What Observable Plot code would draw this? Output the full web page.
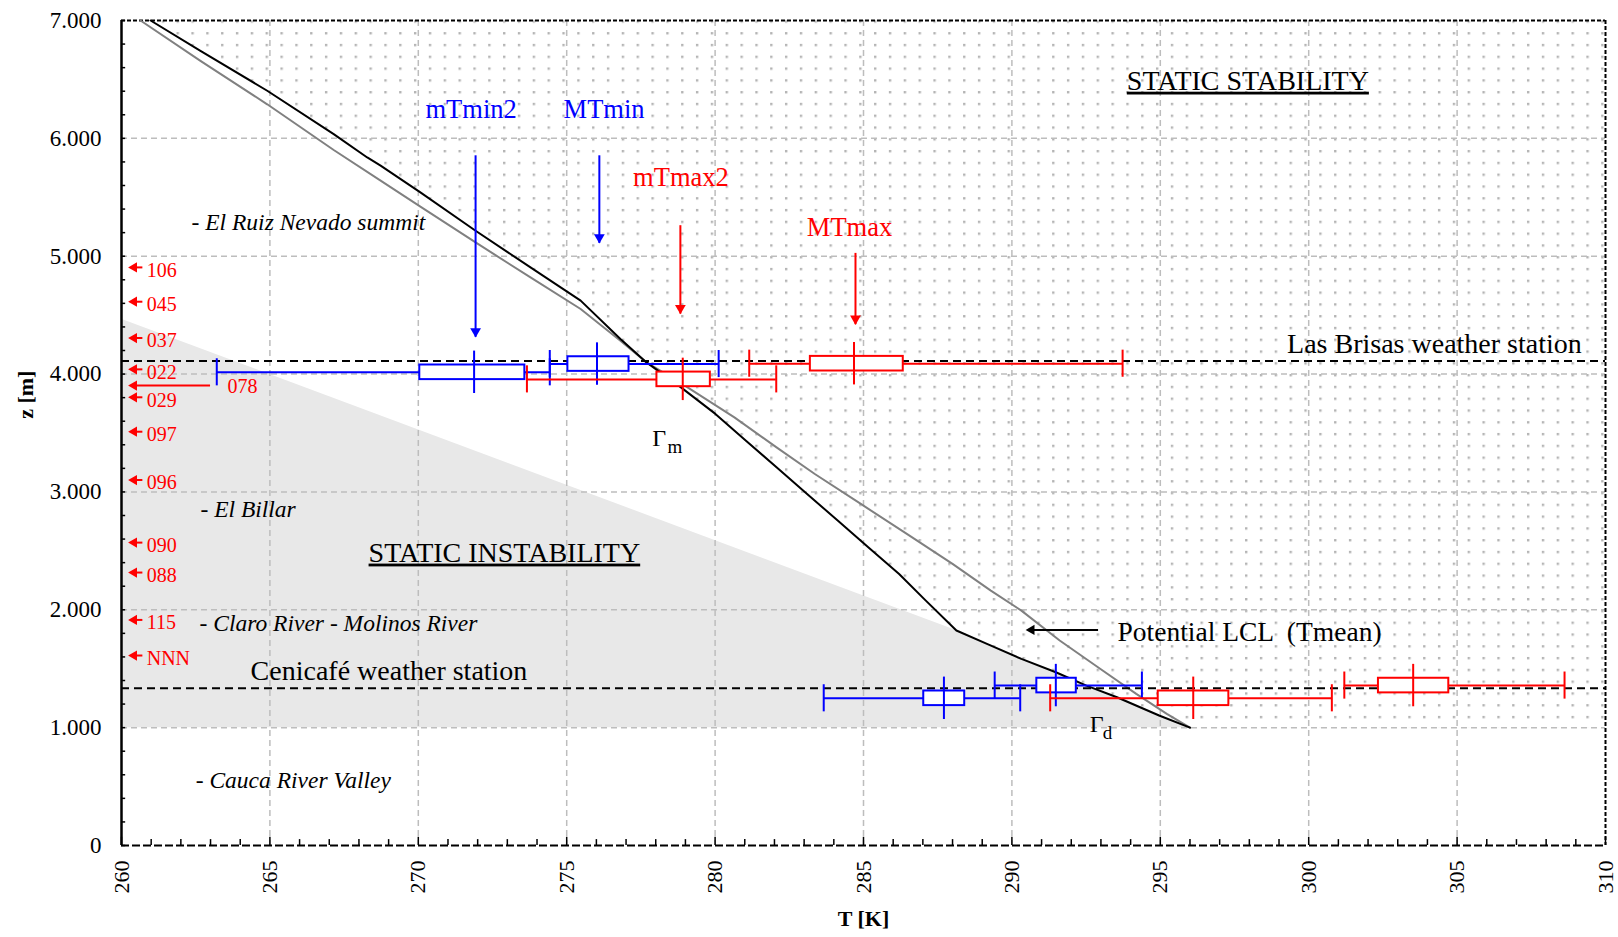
<!DOCTYPE html>
<html><head><meta charset="utf-8">
<script src="https://cdn.jsdelivr.net/npm/d3@7"></script>
<script src="https://cdn.jsdelivr.net/npm/@observablehq/plot@0.6"></script>
<style>body{margin:0;background:#fff} svg text{font-family:"Liberation Serif","Times New Roman",serif}</style>
</head><body><div id="chart"></div>
<script>
// ---- data ----
const blackT = [260.98,262.66,264.91,267.15,268.28,268.73,270.07,271.93,273.78,275.47,276.81,277.69,278.85,280.01,281.04,282.07,283.10,284.13,285.16,286.20,287.10,288.13,289.16,290.32,291.48,292.51,293.54,294.96,296.0];
const blackZ = [7000,6743,6404,6036,5838,5768,5541,5216,4905,4623,4298,4099,3887,3662,3435,3209,2983,2757,2530,2304,2078,1824,1711,1583,1470,1357,1258,1103,1000];
const greyT = [260.64,262.66,264.91,267.15,268.73,270.07,271.93,273.78,275.47,276.81,277.69,278.98,280.65,282.07,283.36,284.91,286.46,288.0,289.29,290.32,291.61,292.9,294.19,295.22,296.0];
const greyZ = [7000,6658,6289,5901,5641,5421,5117,4820,4552,4283,4099,3902,3633,3378,3152,2898,2644,2389,2163,1993,1739,1512,1287,1117,1000];
const instabilityEdgeT = [288.13, 260];
const instabilityEdgeZ = [1824, 4466];
const stationLineZ = [4110, 1335];

const boxKind = ["min","min","max","max","min","min","max","max"];
const boxZ   = [4015,4085,3955,4088,1249,1357,1249,1357];
const boxMin = [263.21,274.43,273.66,281.15,283.66,289.42,291.29,301.20];
const boxQ1  = [270.05,275.04,278.04,283.21,287.03,290.84,294.93,302.35];
const boxMed = [271.88,276.02,278.91,284.68,287.71,291.48,296.11,303.52];
const boxQ3  = [273.59,277.10,279.84,286.34,288.41,292.17,297.31,304.72];
const boxMax = [274.43,280.12,282.06,293.73,290.28,294.38,300.78,308.62];

const arrowLabel = ["mTmin2","MTmin","mTmax2","MTmax"];
const arrowKind  = ["min","min","max","max"];
const arrowT     = [271.93,276.10,278.83,284.73];
const arrowTop   = [5852,5852,5259,5024];
const arrowTip   = [4312,5109,4509,4419];
const arrowLabelT = [271.78,276.26,278.85,284.53];
const arrowLabelZ = [6248,6248,5670,5242];

const stationCode = ["106","045","037","022","029","097","096","090","088","115","NNN"];
const stationZ    = [4905,4614,4306,4040,3803,3511,3101,2570,2316,1914,1612];
const farCode = ["078"], farZ = [3902], farFromT = [263.0], farLabelT = [263.57];

const placeName = ["- El Ruiz Nevado summit","- El Billar","- Claro River - Molinos River","- Cauca River Valley"];
const placeT = [262.36,262.66,262.63,262.5];
const placeZ = [5287,2854,1880,551];

const xTicks = d3.range(260, 311, 5);
const yTicks = d3.range(0, 7001, 1000);

// ---- tables ----
const black = blackT.map((T,i)=>({T, z:blackZ[i]}));
const grey = greyT.map((T,i)=>({T, z:greyZ[i]}));
const shade = black.filter(d=>d.z<=instabilityEdgeZ[0]).sort((a,b)=>a.z-b.z)
  .concat(instabilityEdgeT.slice(1).map((T,i)=>({T, z:instabilityEdgeZ[i+1]})));
const boxes = boxZ.map((z,i)=>({z, kind:boxKind[i], min:boxMin[i], q1:boxQ1[i], med:boxMed[i], q3:boxQ3[i], max:boxMax[i]}));
const arrows = arrowT.map((T,i)=>({T, top:arrowTop[i], tip:arrowTip[i], kind:arrowKind[i], label:arrowLabel[i], lT:arrowLabelT[i], lZ:arrowLabelZ[i]}));
const stations = stationZ.map((z,i)=>({z, code:stationCode[i]}));
const far = farZ.map((z,i)=>({z, code:farCode[i], from:farFromT[i], lT:farLabelT[i]}));
const places = placeName.map((t,i)=>({t, T:placeT[i], z:placeZ[i]}));

const serif = "'Liberation Serif', 'Times New Roman', serif";
const BLUE = "#0000ff", RED = "#ff0000";
const colorOf = {min: BLUE, max: RED};
const BH = 62, WH = 115, MH = 180;

const boxMarks = ["min","max"].flatMap(k => {
  const d = boxes.filter(b => b.kind === k), c = colorOf[k];
  return [
    Plot.ruleY(d, {y:"z", x1:"min", x2:"max", stroke:c, strokeWidth:2}),
    Plot.ruleX(d, {x:"min", y1:b=>b.z-WH, y2:b=>b.z+WH, stroke:c, strokeWidth:2}),
    Plot.ruleX(d, {x:"max", y1:b=>b.z-WH, y2:b=>b.z+WH, stroke:c, strokeWidth:2}),
    Plot.rect(d, {x1:"q1", x2:"q3", y1:b=>b.z-BH, y2:b=>b.z+BH, fill:"white", stroke:c, strokeWidth:2}),
    Plot.ruleX(d, {x:"med", y1:b=>b.z-MH, y2:b=>b.z+MH, stroke:c, strokeWidth:2})
  ];
});
const arrowMarks = ["min","max"].flatMap(k => {
  const d = arrows.filter(a => a.kind === k), c = colorOf[k];
  return [
    Plot.ruleX(d, {x:"T", y1:"top", y2:"tip", stroke:c, strokeWidth:2}),
    Plot.dot(d, {x:"T", y:"tip", symbol:"triangle", r:4, rotate:180, fill:c, stroke:"none", dy:-6}),
    Plot.text(d, {x:"lT", y:"lZ", text:"label", fill:c, fontSize:26.5, fontFamily:serif, textAnchor:"middle"})
  ];
});

const txt = (s, o) => Plot.text([s], {text: d => d, fill: "black", fontFamily: serif, ...o});

const chart = Plot.plot({
  width: 1618, height: 937,
  marginLeft: 121, marginRight: 13, marginTop: 20, marginBottom: 92,
  x: {domain: [260, 310]},
  y: {domain: [0, 7000]},
  style: {fontFamily: serif, background: "white", color: "black", overflow: "visible"},
  marks: [
    // static instability shade
    Plot.areaX(shade, {y:"z", x1:260, x2:"T", fill:"#e8e8e8"}),
    // static stability dotted region
    Plot.areaX(black, {y:"z", x1:"T", x2:310, fill:"url(#dots)"}),
    // grid
    Plot.gridX({ticks: xTicks.slice(1,-1), stroke:"#bdbdbd", strokeOpacity:1, strokeWidth:1.5, strokeDasharray:"6,4"}),
    Plot.gridY({ticks: yTicks.slice(1,-1), stroke:"#bdbdbd", strokeOpacity:1, strokeWidth:1.5, strokeDasharray:"6,4"}),
    // frame
    Plot.ruleY([7000], {stroke:"black", strokeWidth:2, strokeDasharray:"4,2"}),
    Plot.ruleX([310], {stroke:"black", strokeWidth:2, strokeDasharray:"4,2"}),
    Plot.ruleY([0], {stroke:"black", strokeWidth:2, strokeDasharray:"8,3"}),
    Plot.ruleX([260], {stroke:"black", strokeWidth:2.5}),
    Plot.ruleY(d3.range(0, 7001, 200), {x1:260, x2:260.14, stroke:"black", strokeWidth:1.5}),
    Plot.ruleX(d3.range(260, 311, 1), {y1:0, y2:d => d % 5 === 0 ? 70 : 50, stroke:"black", strokeWidth:1.5}),
    // curves
    Plot.line(grey, {x:"T", y:"z", stroke:"#808080", strokeWidth:2}),
    Plot.line(black, {x:"T", y:"z", stroke:"black", strokeWidth:2}),
    // station levels
    Plot.ruleY(stationLineZ, {stroke:"black", strokeWidth:2, strokeDasharray:"8,5"}),
    ...boxMarks,
    ...arrowMarks,
    // left station arrows
    Plot.ruleY(stations, {y:"z", x1:260.4, x2:260.72, stroke:RED, strokeWidth:2}),
    Plot.dot(stations, {x:260.22, y:"z", symbol:"triangle", r:3.8, rotate:-90, fill:RED, stroke:"none", dx:6}),
    Plot.text(stations, {x:260.85, y:"z", text:"code", fill:RED, fontSize:20, fontFamily:serif, textAnchor:"start", dy:3}),
    Plot.ruleY(far, {y:"z", x1:260.4, x2:"from", stroke:RED, strokeWidth:2}),
    Plot.dot(far, {x:260.22, y:"z", symbol:"triangle", r:3.8, rotate:-90, fill:RED, stroke:"none", dx:6}),
    Plot.text(far, {x:"lT", y:"z", text:"code", fill:RED, fontSize:20, fontFamily:serif, textAnchor:"start", dy:1}),
    // LCL arrow
    Plot.ruleY([1829], {x1:290.75, x2:292.92, stroke:"black", strokeWidth:2}),
    Plot.dot([1829], {x:290.46, y:d=>d, symbol:"triangle", r:3.8, rotate:-90, fill:"black", stroke:"none", dx:6}),
    txt("Potential LCL  (Tmean)", {x:293.56, y:1810, fontSize:27.5, textAnchor:"start"}),
    // place names
    Plot.text(places, {x:"T", y:"z", text:"t", fontSize:23.5, fontStyle:"italic", fontFamily:serif, textAnchor:"start", fill:"black"}),
    // station names
    txt("Cenicafé weather station", {x:264.35, y:1484, fontSize:28, textAnchor:"start"}),
    txt("Las Brisas weather station", {x:309.2, y:4255, fontSize:28, textAnchor:"end"}),
    // regions
    txt("STATIC STABILITY", {x:297.95, y:6489, fontSize:28, textAnchor:"middle"}),
    txt("STATIC INSTABILITY", {x:272.9, y:2485, fontSize:28, textAnchor:"middle"}),
    // lapse rate labels
    txt("Γ", {x:277.88, y:3456, fontSize:24, textAnchor:"start"}),
    txt("m", {x:278.40, y:3380, fontSize:19, textAnchor:"start"}),
    txt("Γ", {x:292.62, y:1026, fontSize:24, textAnchor:"start"}),
    txt("d", {x:293.06, y:958, fontSize:19, textAnchor:"start"}),
    // axes
    Plot.axisY({ticks: yTicks, tickSize:0, tickPadding:20, fontSize:23, fontFamily:serif, label:null,
      tickFormat: d => d === 0 ? "0" : d3.format(",")(d).replace(/,/g, ".")}),
    Plot.axisX({ticks: xTicks, tickSize:0, tickPadding:15, tickRotate:-90, fontSize:22, fontFamily:serif, label:null}),
    txt("T [K]", {frameAnchor:"bottom", dy:80, fontSize:22, fontWeight:"bold"}),
    txt("z [m]", {frameAnchor:"left", y:3620, dx:-96, rotate:-90, fontSize:22, fontWeight:"bold"})
  ]
});

// dot pattern definition for the static stability region
const svg = d3.select(chart);
const defs = svg.insert("defs", ":first-child");
const pat = defs.append("pattern").attr("id","dots").attr("patternUnits","userSpaceOnUse")
  .attr("width", 14.84).attr("height", 11.79).attr("x", 13.3).attr("y", 8.5);
pat.append("rect").attr("x",0).attr("y",0).attr("width",2.4).attr("height",2.4).attr("fill","#b4b4b4");
svg.selectAll("text").filter(function(){ return this.textContent.startsWith("STATIC"); })
  .style("text-decoration","underline");
document.getElementById("chart").appendChild(chart);
</script>
</body></html>
